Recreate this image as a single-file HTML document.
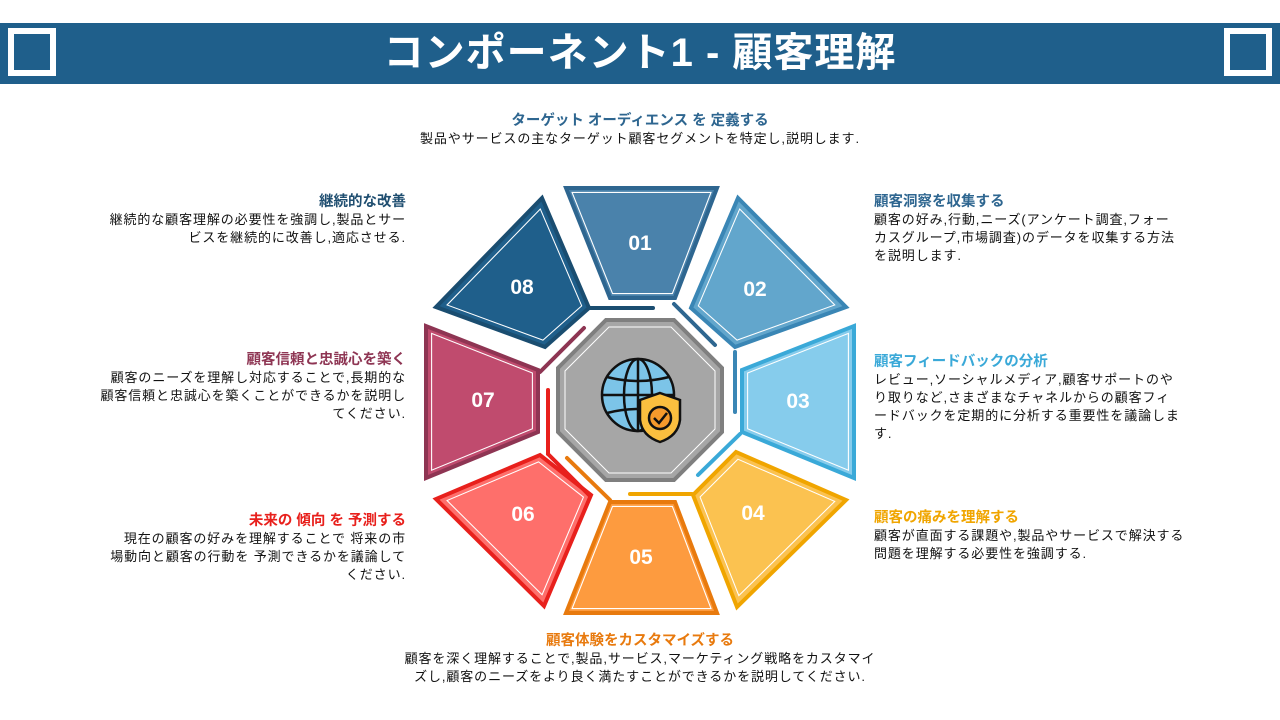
<!DOCTYPE html>
<html><head><meta charset="utf-8"><style>
body{margin:0;width:1280px;height:720px;background:#fff;position:relative;overflow:hidden;font-family:"Liberation Sans","Noto Sans CJK JP",sans-serif;}
.hdr{position:absolute;left:0;top:23px;width:1280px;height:61px;background:#1f5f8b;}
.sq{position:absolute;top:28px;width:36px;height:36px;border:6px solid #fff;background:#1f5f8b;}
.title{position:absolute;left:0;width:1280px;top:23px;height:61px;line-height:61px;text-align:center;color:#fff;font-size:40px;font-weight:bold;letter-spacing:1px;}
.t{position:absolute;font-size:13px;line-height:18px;color:#111;letter-spacing:0.9px;}
.h{font-weight:bold;font-size:14.5px;line-height:18px;letter-spacing:0;}
.r{text-align:right;}
</style></head><body>
<div class="hdr"></div>
<div class="sq" style="left:8px"></div>
<div class="sq" style="left:1224px"></div>
<div class="title">コンポーネント1 - 顧客理解</div>

<div class="t" style="left:340px;width:600px;top:112px;text-align:center"><div class="h" style="color:#2e6690">ターゲット オーディエンス を 定義する</div>製品やサービスの主なターゲット顧客セグメントを特定し,説明します.</div>

<div class="t" style="left:874px;width:308px;top:193px"><div class="h" style="color:#2e6690">顧客洞察を収集する</div>顧客の好み,行動,ニーズ(アンケート調査,フォーカスグループ,市場調査)のデータを収集する方法を説明します.</div>
<div class="t" style="left:874px;width:307px;top:353px"><div class="h" style="color:#3aa9d8">顧客フィードバックの分析</div>レビュー,ソーシャルメディア,顧客サポートのやり取りなど,さまざまなチャネルからの顧客フィードバックを定期的に分析する重要性を議論します.</div>
<div class="t" style="left:874px;width:318px;top:509px"><div class="h" style="color:#f0a500">顧客の痛みを理解する</div>顧客が直面する課題や,製品やサービスで解決する問題を理解する必要性を強調する.</div>

<div class="t r" style="left:96px;width:310px;top:193px"><div class="h" style="color:#1f4e70">継続的な改善</div>継続的な顧客理解の必要性を強調し,製品とサービスを継続的に改善し,適応させる.</div>
<div class="t r" style="left:98px;width:308px;top:351px"><div class="h" style="color:#8e3553">顧客信頼と忠誠心を築く</div>顧客のニーズを理解し対応することで,長期的な顧客信頼と忠誠心を築くことができるかを説明してください.</div>
<div class="t r" style="left:110px;width:296px;top:512px"><div class="h" style="color:#e8201c">未来の 傾向 を 予測する</div>現在の顧客の好みを理解することで 将来の市場動向と顧客の行動を 予測できるかを議論してください.</div>

<div class="t" style="left:398px;width:484px;top:632px;text-align:center"><div class="h" style="color:#e87a0e">顧客体験をカスタマイズする</div>顧客を深く理解することで,製品,サービス,マーケティング戦略をカスタマイズし,顧客のニーズをより良く満たすことができるかを説明してください.</div>

<svg style="position:absolute;left:0;top:0" width="1280" height="720">
<g stroke-linejoin="miter">
<polygon points="566,188 717,188 675,298 610,298" fill="#4a82ab" stroke="#2e6690" stroke-width="4"/>
<polygon points="738,198 846,307 735,347 691,308" fill="#62a6cc" stroke="#3a86b5" stroke-width="4"/>
<polygon points="854,326 854,478 742,432 742,370" fill="#86ccec" stroke="#3aa9d8" stroke-width="4"/>
<polygon points="737,607 846,500 736,452 693,495" fill="#fbc250" stroke="#f0a500" stroke-width="4"/>
<polygon points="566,613 717,613 675,502 610,502" fill="#fd9b3f" stroke="#e87a0e" stroke-width="4"/>
<polygon points="544,606 436,499 540,455 591,495" fill="#fe6f6b" stroke="#e8201c" stroke-width="4"/>
<polygon points="426,326 426,478 538,432 538,370" fill="#c04b6e" stroke="#8e3553" stroke-width="4"/>
<polygon points="542,198 436,307 545,347 589,308" fill="#1f5f8b" stroke="#1a4d70" stroke-width="4"/>
</g>
<g fill="none" stroke="#fff" stroke-width="1.2">
<polygon transform="translate(642,243) scale(.92) translate(-642,-243)" points="566,188 717,188 675,298 610,298"/>
<polygon transform="translate(752,290) scale(.88) translate(-752,-290)" points="738,198 846,307 735,347 691,308"/>
<polygon transform="translate(798,400) scale(.9) translate(-798,-400)" points="854,326 854,478 742,432 742,370"/>
<polygon transform="translate(752,512) scale(.88) translate(-752,-512)" points="737,607 846,500 736,452 693,495"/>
<polygon transform="translate(642,557) scale(.92) translate(-642,-557)" points="566,613 717,613 675,502 610,502"/>
<polygon transform="translate(528,512) scale(.88) translate(-528,-512)" points="544,606 436,499 540,455 591,495"/>
<polygon transform="translate(482,400) scale(.9) translate(-482,-400)" points="426,326 426,478 538,432 538,370"/>
<polygon transform="translate(528,290) scale(.88) translate(-528,-290)" points="542,198 436,307 545,347 589,308"/>
</g>
<g stroke-width="4" stroke-linecap="round" fill="none">
<line x1="590" y1="308" x2="653" y2="308" stroke="#1a4d70"/>
<line x1="674" y1="304" x2="715" y2="345" stroke="#2e6690"/>
<line x1="735" y1="352" x2="735" y2="412" stroke="#3a86b5"/>
<line x1="740" y1="434" x2="698" y2="475" stroke="#3aa9d8"/>
<line x1="630" y1="494" x2="692" y2="494" stroke="#f0a500"/>
<line x1="567" y1="458" x2="610" y2="500" stroke="#e87a0e"/>
<line x1="548" y1="390" x2="548" y2="454" stroke="#e8201c"/>
<line x1="548" y1="454" x2="590" y2="496" stroke="#e8201c"/>
<line x1="584" y1="328" x2="540" y2="372" stroke="#8e3553"/>
</g>
<polygon points="606,320 674,320 722,368 722,432 674,480 606,480 558,432 558,368" fill="#a6a6a6" stroke="#7f7f7f" stroke-width="4"/>
<polygon points="609,327 671,327 715,371 715,429 671,473 609,473 565,429 565,371" fill="none" stroke="#fff" stroke-width="1"/>
<g font-family="Liberation Sans,sans-serif" font-weight="bold" font-size="21" fill="#fff" text-anchor="middle">
<text x="640" y="250">01</text><text x="755" y="296">02</text><text x="798" y="408">03</text><text x="753" y="520">04</text>
<text x="641" y="564">05</text><text x="523" y="521">06</text><text x="483" y="407">07</text><text x="522" y="294">08</text>
</g>
<g stroke="#111" stroke-width="2.5" fill="#7cc4e8">
<circle cx="638" cy="395" r="36"/>
<g fill="none" stroke-width="2.5">
<ellipse cx="638" cy="395" rx="14" ry="36"/>
<line x1="638" y1="359" x2="638" y2="431"/>
<line x1="602" y1="395" x2="674" y2="395"/>
<path d="M607 377 Q638 385 669 377"/><path d="M607 413 Q638 405 669 413"/>
</g>
<path d="M660 393 L680 400 L680 420 Q678 436 660 442 Q642 436 640 420 L640 400 Z" fill="#fbbf3f"/>
<circle cx="660" cy="418" r="11" fill="#f59a2c"/>
<path d="M654 418 L659 423 L667 413" fill="none"/>
</g>
</svg>
</body></html>
